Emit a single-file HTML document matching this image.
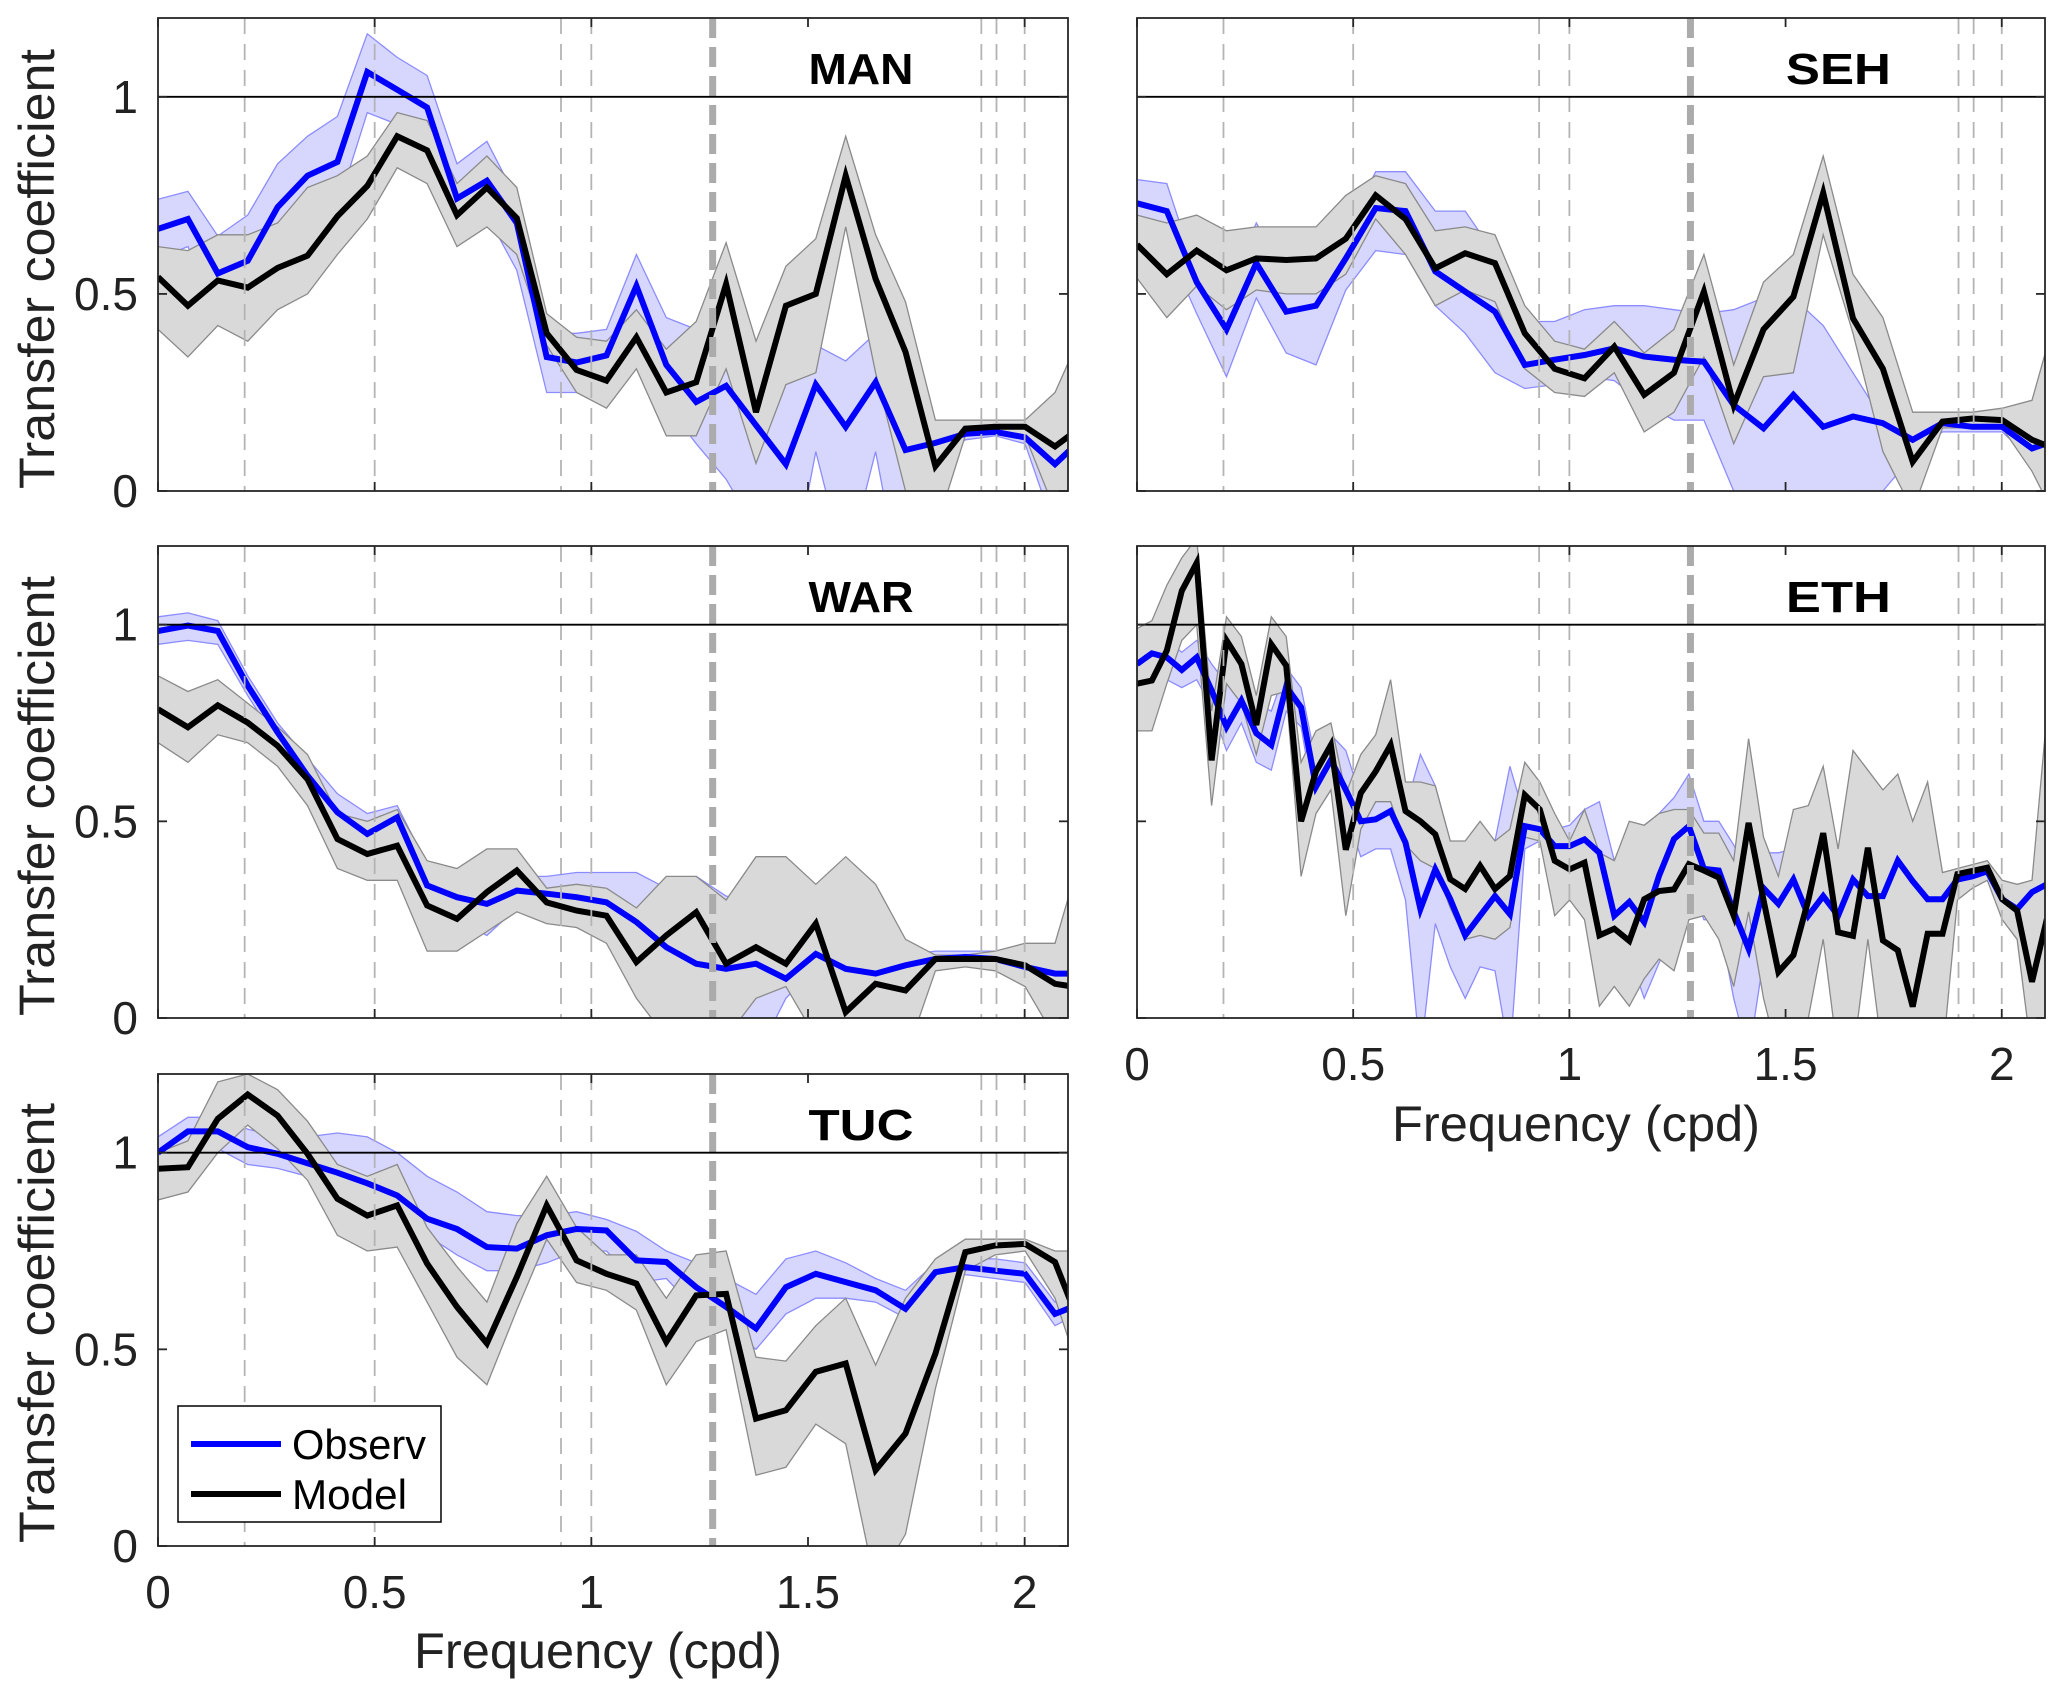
<!DOCTYPE html>
<html><head><meta charset="utf-8"><style>
html,body{margin:0;padding:0;background:#fff;}
svg{display:block;font-family:"Liberation Sans",Arial,sans-serif;}
</style></head><body>
<svg id="fig" width="2067" height="1699" viewBox="0 0 2067 1699" xmlns="http://www.w3.org/2000/svg">
<rect x="0" y="0" width="2067" height="1699" fill="#fff"/>
<g id="layer"></g>
<text x="37" y="269" transform="rotate(-90 37 269)" text-anchor="middle" dominant-baseline="central" font-size="50" textLength="440" lengthAdjust="spacingAndGlyphs" fill="#222">Transfer coefficient</text>
<text x="37" y="796" transform="rotate(-90 37 796)" text-anchor="middle" dominant-baseline="central" font-size="50" textLength="440" lengthAdjust="spacingAndGlyphs" fill="#222">Transfer coefficient</text>
<text x="37" y="1323" transform="rotate(-90 37 1323)" text-anchor="middle" dominant-baseline="central" font-size="50" textLength="440" lengthAdjust="spacingAndGlyphs" fill="#222">Transfer coefficient</text>
<text x="598" y="1668" text-anchor="middle" font-size="50" textLength="368" lengthAdjust="spacingAndGlyphs" fill="#222">Frequency (cpd)</text>
<text x="1576" y="1141" text-anchor="middle" font-size="50" textLength="368" lengthAdjust="spacingAndGlyphs" fill="#222">Frequency (cpd)</text>
<g>
<rect x="178" y="1406" width="263" height="116" fill="#fff" stroke="#000" stroke-width="1.5"/>
<line x1="191" y1="1444" x2="281" y2="1444" stroke="#0000ff" stroke-width="6"/>
<text x="292" y="1459" font-size="42" textLength="134" lengthAdjust="spacingAndGlyphs" fill="#000">Observ</text>
<line x1="191" y1="1494" x2="281" y2="1494" stroke="#000" stroke-width="6"/>
<text x="292" y="1509" font-size="42" textLength="115" lengthAdjust="spacingAndGlyphs" fill="#000">Model</text>
</g>
</svg>
<script>
const freq32 = [0,0.069,0.138,0.207,0.276,0.345,0.414,0.483,0.552,0.621,0.69,0.759,0.828,0.897,0.966,1.035,1.104,1.173,1.242,1.311,1.38,1.449,1.518,1.587,1.656,1.725,1.794,1.863,1.932,2.001,2.07,2.139];
const freq62 = [0,0.0345,0.069,0.1035,0.138,0.1725,0.207,0.2415,0.276,0.3105,0.345,0.3795,0.414,0.4485,0.483,0.5175,0.552,0.5865,0.621,0.6555,0.69,0.7245,0.759,0.7935,0.828,0.8625,0.897,0.9315,0.966,1.0005,1.035,1.0695,1.104,1.1385,1.173,1.2075,1.242,1.2765,1.311,1.3455,1.38,1.4145,1.449,1.4835,1.518,1.5525,1.587,1.6215,1.656,1.6905,1.725,1.7595,1.794,1.8285,1.863,1.8975,1.932,1.9665,2.001,2.0355,2.07,2.1045];
const xTicks = [0,0.5,1,1.5,2];
const xTickLabels = ["0","0.5","1","1.5","2"];
const yTicks = [0,0.5,1];
const yTickLabels = ["0","0.5","1"];
const refFreqs = [0.2,0.5,0.93,1.0,1.9,1.935,2.0];
const mainRefFreq = [1.28];

const manObs  = [.665,.69,.552,.584,.72,.80,.835,1.063,1.018,.973,.742,.787,.68,.34,.326,.344,.52,.32,.226,.267,.167,.068,.27,.163,.276,.104,.122,.145,.15,.136,.068,.14];
const manObsU = [.74,.76,.647,.70,.83,.90,.95,1.16,1.10,1.054,.83,.887,.74,.40,.40,.41,.60,.44,.41,.38,.35,.33,.37,.33,.40,.11,.13,.16,.165,.15,.09,.2];
const manObsL = [.59,.62,.46,.47,.61,.70,.72,.96,.93,.89,.65,.70,.56,.25,.25,.28,.42,.22,.12,.03,-.1,-.3,.1,-.2,.1,-.3,.08,.13,.14,.12,-.1,0];
const manMod  = [.543,.47,.534,.516,.566,.597,.697,.774,.90,.864,.70,.77,.692,.40,.307,.28,.39,.25,.276,.525,.20,.47,.50,.80,.538,.353,.063,.158,.163,.163,.113,.17];
const manModU = [.62,.61,.65,.65,.68,.77,.80,.85,.96,.94,.78,.85,.77,.45,.39,.38,.46,.36,.43,.63,.38,.57,.64,.90,.65,.48,.18,.18,.18,.18,.25,.42];
const manModL = [.41,.34,.42,.38,.46,.50,.60,.69,.82,.78,.62,.67,.60,.37,.25,.21,.31,.14,.14,.31,.07,.27,.30,.67,.30,0,-.1,.14,.15,.14,-.05,-.1];

const sehObs  = [.73,.71,.53,.41,.578,.455,.47,.59,.718,.71,.557,.506,.455,.32,.333,.345,.362,.341,.333,.328,.218,.159,.244,.163,.189,.172,.13,.172,.163,.163,.108,.134];
const sehObsU = [.79,.78,.55,.50,.68,.55,.50,.66,.81,.81,.71,.71,.6,.43,.43,.46,.47,.47,.46,.45,.46,.49,.49,.42,.30,.18,.15,.18,.18,.17,.14,.15];
const sehObsL = [.68,.62,.45,.29,.49,.35,.32,.51,.61,.60,.47,.40,.30,.26,.27,.29,.28,.22,.18,.18,0,-.1,-.2,-.3,0,0,.09,.15,.15,.15,.08,.1];
const sehMod  = [.625,.55,.61,.56,.59,.586,.59,.64,.75,.69,.565,.603,.578,.40,.31,.286,.366,.244,.30,.506,.218,.41,.493,.756,.438,.31,.074,.176,.184,.18,.13,.1];
const sehModU = [.70,.68,.70,.66,.67,.67,.67,.75,.80,.78,.66,.67,.65,.47,.38,.36,.43,.35,.41,.60,.32,.53,.60,.85,.55,.44,.20,.20,.20,.21,.23,.5];
const sehModL = [.54,.44,.52,.46,.51,.50,.50,.55,.69,.60,.47,.51,.48,.31,.25,.24,.30,.15,.20,.34,.12,.29,.30,.65,.40,.10,-.05,.16,.16,.16,.05,-.1];

const warObs  = [.984,.998,.984,.845,.726,.616,.523,.468,.51,.337,.307,.29,.324,.316,.307,.294,.244,.18,.138,.125,.138,.10,.163,.125,.113,.134,.15,.155,.15,.13,.113,.113];
const warObsU = [1.02,1.03,1.01,.87,.75,.66,.57,.52,.54,.39,.38,.37,.36,.36,.37,.37,.37,.33,.36,.31,.30,.15,.20,.16,.14,.16,.17,.17,.17,.15,.13,.13];
const warObsL = [.95,.96,.95,.82,.70,.58,.48,.42,.47,.30,.25,.21,.28,.28,.27,.24,.15,0,-.1,-.1,-.1,.05,.13,.09,.09,.11,.13,.14,.13,.11,.09,.09];
const warMod  = [.785,.739,.795,.751,.692,.607,.455,.417,.438,.286,.252,.32,.375,.294,.273,.26,.142,.21,.269,.138,.18,.138,.24,.015,.087,.07,.15,.15,.15,.134,.087,.075];
const warModU = [.87,.83,.86,.80,.74,.67,.52,.50,.53,.40,.38,.43,.43,.33,.34,.33,.28,.36,.36,.30,.41,.41,.34,.41,.34,.20,.16,.16,.17,.19,.19,.45];
const warModL = [.70,.65,.72,.70,.64,.54,.38,.35,.35,.17,.17,.22,.27,.24,.23,.19,.05,-.05,0,-.05,.05,.08,-.05,-.1,-.1,-.1,.12,.13,.12,.08,-.05,-.1];

const tucObs  = [1.0,1.054,1.054,1.014,.997,.973,.949,.922,.891,.832,.806,.76,.756,.79,.806,.802,.726,.722,.658,.608,.553,.658,.692,.671,.65,.603,.696,.709,.70,.692,.59,.62];
const tucObsU = [1.04,1.09,1.09,1.06,1.04,1.04,1.05,1.04,1.0,.94,.90,.85,.84,.84,.85,.83,.80,.75,.72,.68,.64,.73,.75,.72,.68,.65,.72,.73,.73,.72,.62,.64];
const tucObsL = [.96,1.01,1.01,.97,.96,.94,.93,.90,.86,.79,.74,.70,.70,.72,.75,.75,.67,.68,.60,.56,.50,.59,.63,.63,.62,.58,.67,.69,.68,.67,.56,.60];
const tucMod  = [.959,.963,1.086,1.148,1.094,.997,.883,.84,.866,.718,.608,.515,.684,.866,.726,.692,.667,.519,.637,.641,.324,.345,.443,.464,.193,.286,.489,.747,.764,.768,.722,.53];
const tucModU = [1.0,1.03,1.18,1.2,1.16,1.08,.97,.94,.97,.81,.71,.62,.82,.94,.81,.74,.74,.63,.74,.75,.48,.47,.56,.63,.46,.63,.73,.78,.78,.78,.75,.75];
const tucModL = [.88,.90,1.0,1.07,1.01,.93,.79,.75,.76,.62,.48,.41,.60,.78,.67,.65,.60,.41,.52,.55,.18,.20,.31,.26,-.1,.03,.40,.70,.74,.75,.63,.40];

const ethObs  = [.90,.927,.917,.885,.917,.833,.74,.807,.724,.694,.842,.79,.588,.656,.58,.50,.505,.526,.446,.277,.378,.302,.21,.26,.31,.264,.488,.48,.437,.437,.454,.42,.26,.295,.244,.362,.455,.488,.379,.375,.27,.176,.33,.29,.352,.26,.31,.26,.352,.31,.31,.40,.348,.302,.302,.352,.36,.373,.302,.277,.32,.34];
const ethObsU = [.95,.97,.96,.93,.96,.90,.85,.85,.80,.78,.89,.84,.65,.72,.68,.56,.55,.60,.53,.67,.59,.45,.44,.48,.45,.64,.51,.53,.48,.49,.53,.55,.40,.48,.49,.52,.56,.62,.50,.50,.44,.36,.42,.42,.43,.45,.42,.40,.43,.40,.38,.45,.40,.37,.36,.37,.38,.39,.33,.30,.34,.36];
const ethObsL = [.86,.88,.86,.84,.86,.79,.68,.75,.65,.63,.78,.74,.52,.58,.52,.41,.43,.43,.30,-.1,.24,.13,.05,.13,.12,-.1,.43,.45,.40,.40,.38,.29,.10,.16,.05,.14,.23,.35,.25,.25,.05,-.1,.15,.17,.2,.15,.20,.15,.25,.22,.25,.32,.30,.27,.27,.31,.34,.35,.27,.25,.29,.31];
const ethMod  = [.85,.858,.934,1.086,1.157,.655,.96,.90,.745,.95,.896,.50,.627,.694,.428,.572,.627,.694,.526,.50,.467,.353,.328,.387,.328,.361,.567,.53,.40,.378,.395,.21,.227,.196,.302,.323,.327,.391,.375,.357,.26,.496,.30,.117,.16,.30,.47,.218,.209,.433,.197,.172,.029,.214,.214,.366,.374,.382,.302,.273,.092,.252];
const ethModU = [.99,1.01,1.1,1.17,1.22,.78,1.02,.97,.82,1.02,.97,.65,.73,.75,.57,.67,.72,.86,.60,.60,.59,.45,.45,.50,.45,.48,.65,.60,.52,.45,.53,.42,.40,.50,.49,.52,.53,.53,.47,.47,.40,.71,.46,.36,.53,.54,.64,.43,.68,.63,.58,.62,.50,.60,.37,.38,.39,.40,.35,.34,.35,.77];
const ethModL = [.73,.73,.85,.96,1.0,.54,.85,.80,.67,.82,.83,.36,.52,.58,.26,.48,.55,.55,.44,.40,.38,.28,.20,.21,.20,.23,.46,.45,.26,.30,.25,.03,.08,.03,.10,.15,.12,.25,.26,.20,.08,.27,.05,-.1,-.1,0,.20,-.1,-.1,.2,-.1,-.1,-.1,-.1,-.1,.30,.33,.35,.25,.20,-.1,-.1];

const NS = "http://www.w3.org/2000/svg";
const layer = document.getElementById("layer");
const XMAX = 2.1, YMAX = 1.2;

function mk(tag, attrs, parent) {
  const e = document.createElementNS(NS, tag);
  for (const k in attrs) e.setAttribute(k, attrs[k]);
  parent.appendChild(e);
  return e;
}

const panels = [
  {id:"man", title:"MAN", x0:158, x1:1068, y0:18, y1:491, ylab:true, xlab:false, f:freq32, obs:manObs, obsU:manObsU, obsL:manObsL, mod:manMod, modU:manModU, modL:manModL},
  {id:"seh", title:"SEH", x0:1137, x1:2045, y0:18, y1:491, ylab:false, xlab:false, f:freq32, obs:sehObs, obsU:sehObsU, obsL:sehObsL, mod:sehMod, modU:sehModU, modL:sehModL},
  {id:"war", title:"WAR", x0:158, x1:1068, y0:546, y1:1018, ylab:true, xlab:false, f:freq32, obs:warObs, obsU:warObsU, obsL:warObsL, mod:warMod, modU:warModU, modL:warModL},
  {id:"eth", title:"ETH", x0:1137, x1:2045, y0:546, y1:1018, ylab:false, xlab:true, f:freq62, obs:ethObs, obsU:ethObsU, obsL:ethObsL, mod:ethMod, modU:ethModU, modL:ethModL},
  {id:"tuc", title:"TUC", x0:158, x1:1068, y0:1074, y1:1546, ylab:true, xlab:true, f:freq32, obs:tucObs, obsU:tucObsU, obsL:tucObsL, mod:tucMod, modU:tucModU, modL:tucModL}
];

panels.forEach(p => {
  const sx = v => p.x0 + (v / XMAX) * (p.x1 - p.x0);
  const sy = v => p.y1 - (v / YMAX) * (p.y1 - p.y0);
  const g = mk("g", {}, layer);
  
  
  const cp = mk("clipPath", {id:"clip-" + p.id}, g);
  mk("rect", {x:p.x0, y:p.y0, width:p.x1 - p.x0, height:p.y1 - p.y0}, cp);
  const plot = mk("g", {"clip-path":"url(#clip-" + p.id + ")"}, g);
  
  

  function band(U, L, fill, stroke, name) {
    let pts = [];
    for (let i = 0; i < p.f.length; i++) pts.push(sx(p.f[i]).toFixed(1) + "," + sy(U[i]).toFixed(1));
    for (let i = p.f.length - 1; i >= 0; i--) pts.push(sx(p.f[i]).toFixed(1) + "," + sy(L[i]).toFixed(1));
    const e = mk("polygon", {points:pts.join(" "), fill:fill, stroke:stroke, "stroke-width":1.3}, plot);
    
    
  }
  function line(V, color, name) {
    const pts = p.f.map((f, i) => sx(f).toFixed(1) + "," + sy(V[i]).toFixed(1)).join(" ");
    const e = mk("polyline", {points:pts, fill:"none", stroke:color, "stroke-width":6, "stroke-linejoin":"miter"}, plot);
    
    
  }
  band(p.obsU, p.obsL, "#d7d7fd", "#8c8cff", "observ-band-" + p.id);
  band(p.modU, p.modL, "#d9d9d9", "#8a8a8a", "model-band-" + p.id);
  line(p.obs, "#0000ff", "observ-line-" + p.id);
  line(p.mod, "#000000", "model-line-" + p.id);

  refFreqs.forEach(f => {
    const e = mk("line", {x1:sx(f), x2:sx(f), y1:p.y0, y2:p.y1, stroke:"#b4b4b4", "stroke-width":1.8, "stroke-dasharray":"16 10"}, plot);
    
    
  });
  mainRefFreq.forEach(f => {
    const e = mk("line", {x1:sx(f), x2:sx(f), y1:p.y0, y2:p.y1, stroke:"#ababab", "stroke-width":7, "stroke-dasharray":"20 9"}, plot);
    
    
  });
  const one = mk("line", {x1:p.x0, x2:p.x1, y1:sy(1), y2:sy(1), stroke:"#000", "stroke-width":1.8}, g);
  
  

  const fr = mk("rect", {x:p.x0, y:p.y0, width:p.x1 - p.x0, height:p.y1 - p.y0, fill:"none", stroke:"#262626", "stroke-width":1.8}, g);
  
  

  xTicks.forEach((t, i) => {
    const tb = mk("line", {x1:sx(t), x2:sx(t), y1:p.y1, y2:p.y1 - 9, stroke:"#262626", "stroke-width":1.8}, g);
    
    
    const tt = mk("line", {x1:sx(t), x2:sx(t), y1:p.y0, y2:p.y0 + 9, stroke:"#262626", "stroke-width":1.8}, g);
    
    
    if (p.xlab) {
      const tl = mk("text", {x:sx(t), y:p.y1 + 62, "text-anchor":"middle", "font-size":46, fill:"#222"}, g);
      tl.textContent = xTickLabels[i];
      
      
    }
  });
  yTicks.forEach((t, i) => {
    const tl1 = mk("line", {x1:p.x0, x2:p.x0 + 9, y1:sy(t), y2:sy(t), stroke:"#262626", "stroke-width":1.8}, g);
    
    
    const tr = mk("line", {x1:p.x1, x2:p.x1 - 9, y1:sy(t), y2:sy(t), stroke:"#262626", "stroke-width":1.8}, g);
    
    
    if (p.ylab) {
      const yl = mk("text", {x:p.x0 - 20, y:sy(t) + 16, "text-anchor":"end", "font-size":46, fill:"#222"}, g);
      yl.textContent = yTickLabels[i];
      
      
    }
  });
  const ti = mk("text", {x:p.x0 + 0.7725 * (p.x1 - p.x0), y:p.y0 + 66, "text-anchor":"middle", "font-size":44, "font-weight":"bold", textLength:105, lengthAdjust:"spacingAndGlyphs", fill:"#000"}, g);
  ti.textContent = p.title;
  
  
});
</script>
</body></html>
